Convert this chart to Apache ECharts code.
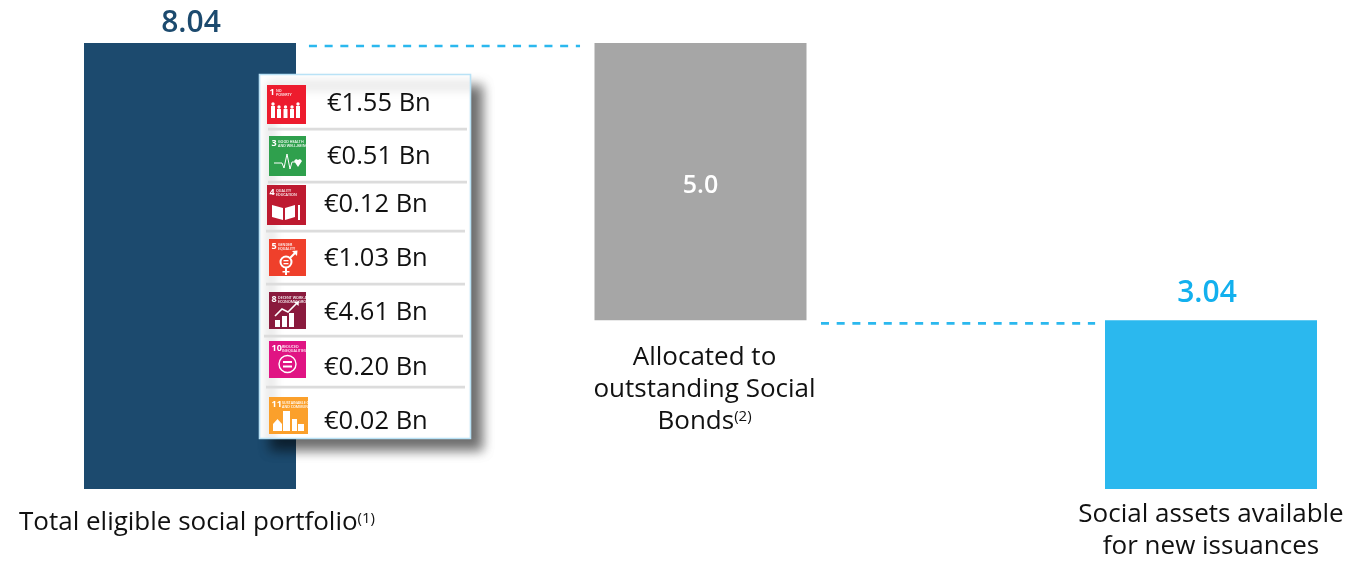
<!DOCTYPE html>
<html>
<head>
<meta charset="utf-8">
<title>Social portfolio</title>
<style>html,body{margin:0;padding:0;background:#fff}#chart{width:1348px;height:561px}</style>
<script src="https://cdn.jsdelivr.net/npm/echarts@6/dist/echarts.min.js"></script>
</head>
<body>
<div id="chart"></div>
<script>
// Portfolio bridge values (EUR bn)
const categories = ['Total eligible social portfolio', 'Allocated to outstanding Social Bonds', 'Social assets available for new issuances'];
const baseValues = [0, 3.04, 0];
const barValues = [8.04, 5.0, 3.04];
const barColors = ['#1c4a6e', '#a6a6a6', '#2bb8ee'];
const labelColors = ['#1c4a6e', '#ffffff', '#12b0ee'];

// Dashed connectors between the bars: [axis position, value]
const connectorA = [[0.233, 7.985], [0.764, 7.985]];
const connectorB = [[1.236, 2.985], [1.773, 2.985]];

// SDG breakdown listed in the inset panel
const sdgGoals = ['1', '3', '4', '5', '8', '10', '11'];
const sdgTitles = [['NO', 'POVERTY'], ['GOOD HEALTH', 'AND WELL-BEING'], ['QUALITY', 'EDUCATION'], ['GENDER', 'EQUALITY'],
  ['DECENT WORK AND', 'ECONOMIC GROWTH'], ['REDUCED', 'INEQUALITIES'], ['SUSTAINABLE CITIES', 'AND COMMUNITIES']];
const sdgAmounts = ['€1.55 Bn', '€0.51 Bn', '€0.12 Bn', '€1.03 Bn', '€4.61 Bn', '€0.20 Bn', '€0.02 Bn'];
const sdgColors = ['#ed1c2e', '#2fa04d', '#be1a30', '#ef402b', '#8a1a3d', '#e01483', '#fba02b'];

// Inset layout, in pixels
const FONT = '"Open Sans", "Noto Sans", sans-serif';
const panel = { x: 259.5, y: 74.5, w: 211, h: 364 };
const iconBoxes = [[267, 85, 39, 39], [269, 136, 37, 40], [267, 185, 39, 40], [269, 239, 37, 37], [269, 292, 37, 37], [269, 341, 37, 37], [269, 397, 39, 37]];
const amountPos = [[327, 102], [327, 155], [324, 203], [324, 257], [324, 311], [324, 366], [324, 420]];
const dividers = [[268, 129], [268, 182], [266, 231], [266, 284], [264, 336], [266, 387]];

const W = '#ffffff';
const r = (x, y, w, h, fill) => ({ type: 'rect', shape: { x, y, width: w, height: h }, style: { fill: fill || W } });
const c = (cx, cy, rad) => ({ type: 'circle', shape: { cx, cy, r: rad }, style: { fill: W } });
const ring = (cx, cy, rad, lw) => ({ type: 'circle', shape: { cx, cy, r: rad }, style: { fill: 'none', stroke: W, lineWidth: lw } });
const pl = (points, lw) => ({ type: 'polyline', shape: { points }, style: { fill: 'none', stroke: W, lineWidth: lw } });
const pg = (points) => ({ type: 'polygon', shape: { points }, style: { fill: W } });

// Small white pictograms, one per goal, in the icon's local coordinates
const pictograms = [
  () => [5, 11, 17.5, 24, 30].flatMap((x, i) => {
    const tall = i === 0 || i === 4;
    const top = tall ? 19 : 22;
    return [c(x + 1, top, 1.7), r(x - 1, top + 2, 4, tall ? 12 : 9)];
  }),
  () => [pl([[5, 27], [13, 27], [15, 32], [18, 18], [21, 33], [23, 26], [26, 26]], 1),
    pg([[25, 25], [27, 23], [29, 24], [31, 23], [33, 25], [29, 31]])],
  () => [pg([[5, 20], [16, 23], [16, 35], [5, 32]]), pg([[18, 23], [28, 20], [28, 32], [18, 35]]), r(31, 20, 2, 15)],
  () => [ring(17, 23, 5.5, 2), r(14.5, 21, 5, 1.3), r(14.5, 24, 5, 1.3), r(16, 29, 2, 7), r(13.5, 32, 7, 1.5),
    pl([[21, 19], [27, 13]], 2), pg([[23, 12], [28.5, 11.5], [28, 17]])],
  () => [r(6, 28, 5, 7), r(13, 24, 5, 11), r(20, 21, 5, 14), pl([[6, 24], [13, 17], [19, 20], [28, 11]], 1.6), pg([[25, 10], [30, 9], [29.5, 14]])],
  () => [ring(18.5, 23, 8.5, 1.4), r(14, 20, 9, 2), r(14, 24.5, 9, 2)],
  () => [r(14, 14, 7, 20), r(23, 22, 5, 12), r(29, 27, 6, 7), pg([[4, 27], [8.5, 22], [13, 27], [13, 34], [4, 34]])]
];

function tinyText(lines, x, y, size) {
  return { type: 'text', x, y, style: { text: lines.join('\n'), fill: W, font: '600 ' + size + 'px ' + FONT, lineHeight: size + 0.6 } };
}

function panelChildren() {
  const out = [{
    type: 'rect', shape: { x: panel.x, y: panel.y, width: panel.w, height: panel.h },
    style: { fill: '#fff', stroke: '#b9e2f6', lineWidth: 1.6, shadowBlur: 11, shadowOffsetX: 11, shadowOffsetY: 11, shadowColor: 'rgba(0,0,0,0.58)' }
  }];
  dividers.forEach(([x, y]) => out.push(r(x, y - 1.2, 199, 2.6, '#dcdcdc')));
  sdgGoals.forEach((goal, i) => {
    const [x, y, w, h] = iconBoxes[i];
    out.push({
      type: 'group', x, y,
      children: [
        r(0, 0, w, h, sdgColors[i]),
        { type: 'text', x: 2.5, y: 2.5, style: { text: goal, fill: W, font: '700 9px ' + FONT } },
        tinyText(sdgTitles[i], goal.length > 1 ? 13 : 9, 3.5, 3.6)
      ].concat(pictograms[i]())
    });
    out.push({
      type: 'text', x: amountPos[i][0], y: amountPos[i][1] + 1.5,
      style: { text: sdgAmounts[i], fill: '#111', font: '25.5px ' + FONT, verticalAlign: 'middle', textAlign: 'left' }
    });
  });
  return out;
}

// Lift every inset element above the bars; z does not carry down from a group
function raise(el) {
  el.z = 100;
  if (el.children) el.children.forEach(raise);
  return el;
}

const captions = [
  '{t|Total eligible social portfolio}{s|(1)}',
  '{t|Allocated to}\n{t|outstanding Social}\n{t|Bonds}{s|(2)}',
  '{t|Social assets available}\n{t|for new issuances}'
];
const captionRich = {
  t: { fontFamily: FONT, fontSize: 26, color: '#111', lineHeight: 32 },
  s: { fontFamily: FONT, fontSize: 15, color: '#111', lineHeight: 32, padding: [0, 0, 9, 0] }
};

const chart = echarts.init(document.getElementById('chart'), null, { renderer: 'canvas' });
chart.setOption({
  animation: false,
  backgroundColor: '#fff',
  textStyle: { fontFamily: FONT },
  grid: { left: 190, top: 43, width: 1021, height: 446 },
  xAxis: [
    { type: 'category', data: categories, boundaryGap: false, show: false },
    { type: 'value', min: 0, max: 2, show: false }
  ],
  yAxis: { type: 'value', min: 0, max: 8.04, show: false },
  series: [
    { name: 'base', type: 'bar', stack: 'bridge', data: baseValues, barWidth: 212, clip: false, itemStyle: { color: 'transparent' }, silent: true },
    {
      name: 'value', type: 'bar', stack: 'bridge', clip: false, barWidth: 212,
      data: barValues.map((v, i) => ({
        value: v,
        itemStyle: { color: barColors[i] },
        label: {
          show: true,
          position: i === 1 ? 'inside' : 'top',
          distance: [5, 0, 12][i],
          offset: [[1, 0], [0, 4], [-4, 0]][i],
          color: labelColors[i],
          fontFamily: FONT,
          fontWeight: 600,
          fontSize: i === 1 ? 25 : 30,
          formatter: i === 1 ? v.toFixed(1) : v.toFixed(2)
        }
      }))
    },
    {
      name: 'captions', type: 'scatter', symbolSize: 0, clip: false, silent: true,
      itemStyle: { opacity: 1 },
      data: [[0, 0], [1, 3.04], [2, 0]].map((d, i) => ({
        value: d,
        label: {
          show: true, position: 'bottom', distance: [18, 21, 10][i], offset: [[7, 0], [4, 0], [0, 0]][i],
          align: 'center', color: '#111', formatter: captions[i], rich: captionRich
        }
      }))
    },
    { name: 'connectorA', type: 'line', xAxisIndex: 1, data: connectorA, symbol: 'none', clip: false, lineStyle: { color: '#2bb8ee', width: 2.6, type: [8, 7.7] } },
    { name: 'connectorB', type: 'line', xAxisIndex: 1, data: connectorB, symbol: 'none', clip: false, lineStyle: { color: '#2bb8ee', width: 2.6, type: [8, 7.7] } }
  ],
  graphic: { elements: [raise({ type: 'group', children: panelChildren() })] }
});
</script>
</body>
</html>
